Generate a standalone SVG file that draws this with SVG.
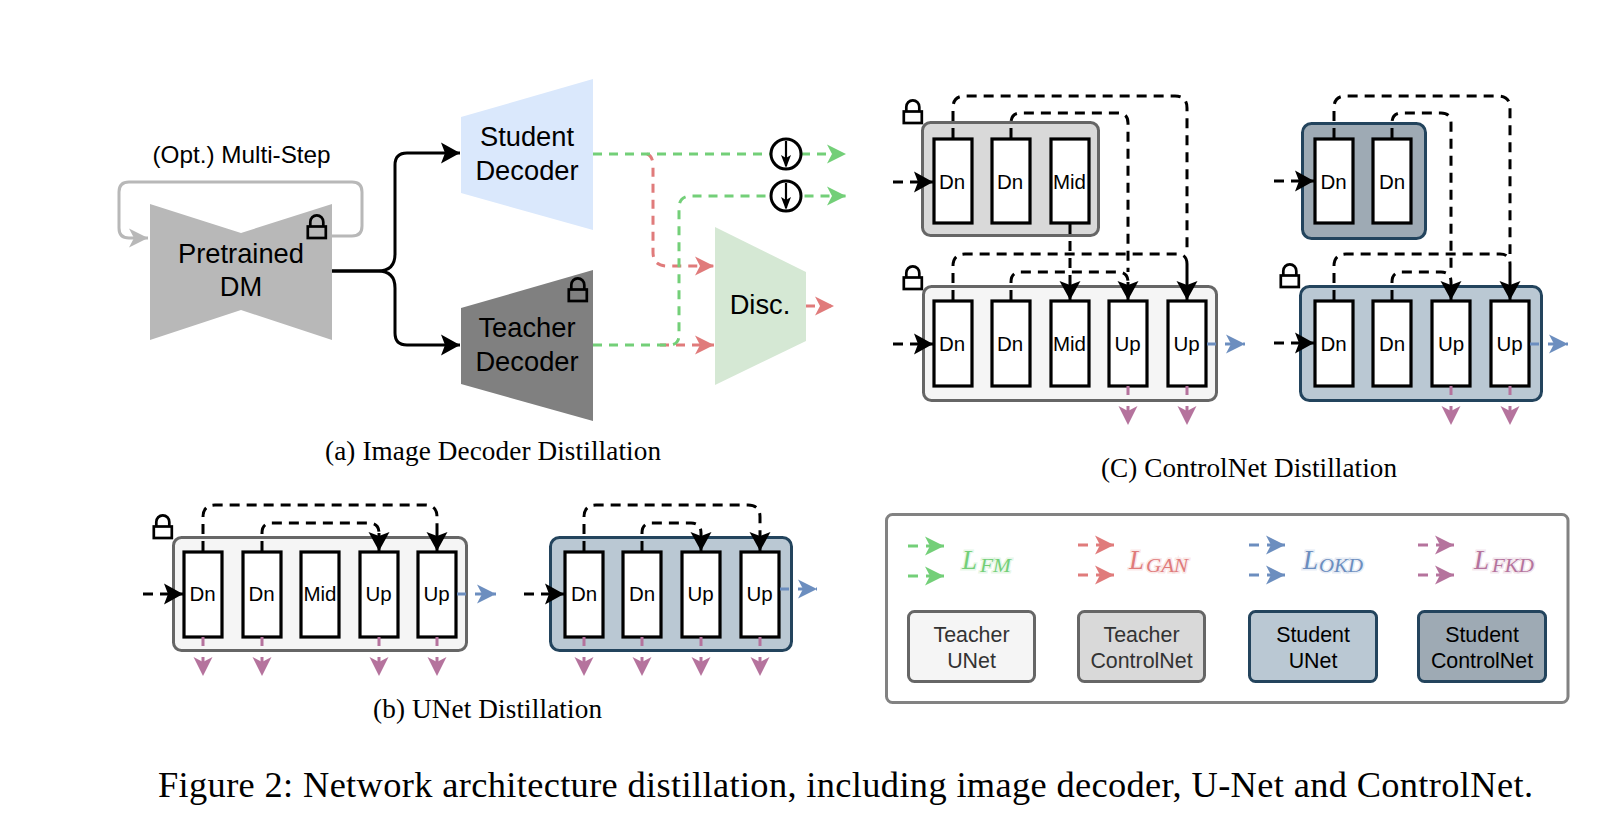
<svg xmlns="http://www.w3.org/2000/svg" width="1612" height="824" viewBox="0 0 1612 824">
<defs>
<style>
text{font-family:"Liberation Sans",Arial,sans-serif;text-anchor:middle;fill:#000}
.big{font-size:27.3px}
.blk{font-size:20.5px}
.leg{font-size:21.4px}
.dim{fill:#333}
.cap{font-family:"Liberation Serif","Times New Roman",serif;font-size:27.2px;text-anchor:start}
.fig{font-family:"Liberation Serif","Times New Roman",serif;font-size:36.4px;text-anchor:start}
.loss{font-family:"Liberation Serif","Times New Roman",serif;font-style:italic;text-anchor:start;font-size:27px;paint-order:stroke;stroke-width:3px;stroke-opacity:.18}
.sub{font-size:19px}
.block{fill:#fff;stroke:#000;stroke-width:3.2}
.tc{fill:#f5f5f5;stroke:#666;stroke-width:3}
.tk{fill:#d9d9d9;stroke:#666;stroke-width:3}
.su{fill:#bac8d3;stroke:#23445d;stroke-width:3}
.sk{fill:#9eaab4;stroke:#23445d;stroke-width:3}
.lock{fill:none;stroke:#000;stroke-width:2.7}
.c{fill:none;stroke-width:3}
.k{stroke:#000;stroke-dasharray:10 7;marker-end:url(#ak)}
.kn{stroke:#000;stroke-dasharray:10 7}
.g{stroke:#73cf78;stroke-dasharray:9 7;marker-end:url(#ag)}
.r{stroke:#e07b7b;stroke-dasharray:9 7;marker-end:url(#ar)}
.b{stroke:#6c8ebf;stroke-dasharray:9 9;marker-end:url(#ab)}
.p{stroke:#b5739d;stroke-dasharray:9 11;marker-end:url(#ap)}
.ks{stroke:#000;marker-end:url(#ak)}
.gy{stroke:#b8b8b8;marker-end:url(#ay)}
.one{stroke-dasharray:10 8 30}
</style>
<marker id="ak" markerUnits="userSpaceOnUse" markerWidth="24" markerHeight="24" refX="19" refY="12" orient="auto"><path d="M0,1.5L19,12L0,22.5L4,12z" fill="#000"/></marker>
<marker id="ag" markerUnits="userSpaceOnUse" markerWidth="24" markerHeight="24" refX="19" refY="12" orient="auto"><path d="M0,2.500L19,12L0,21.500L5,12z" fill="#73cf78"/></marker>
<marker id="ar" markerUnits="userSpaceOnUse" markerWidth="24" markerHeight="24" refX="19" refY="12" orient="auto"><path d="M0,2.500L19,12L0,21.500L5,12z" fill="#e07b7b"/></marker>
<marker id="ab" markerUnits="userSpaceOnUse" markerWidth="24" markerHeight="24" refX="19" refY="12" orient="auto"><path d="M0,2.500L19,12L0,21.500L5,12z" fill="#6c8ebf"/></marker>
<marker id="ap" markerUnits="userSpaceOnUse" markerWidth="24" markerHeight="24" refX="19" refY="12" orient="auto"><path d="M0,2.500L19,12L0,21.500L5,12z" fill="#b5739d"/></marker>
<marker id="ay" markerUnits="userSpaceOnUse" markerWidth="24" markerHeight="24" refX="19" refY="12" orient="auto"><path d="M0,2.500L19,12L0,21.500L5,12z" fill="#b8b8b8"/></marker>
<g id="lk"><rect class="lock" x="1.300" y="12.500" width="18" height="11.500"/><path class="lock" d="M3.800,12.500V8a6.500,6.700 0 0 1 13,0V12.500"/></g>
</defs>
<rect width="1612" height="824" fill="#fff"/>

<g id="pretrained-dm">
<path d="M150,204L241,233L332,204V340L241,310L150,340z" fill="#b8b8b8"/>
<text class="big" x="241" y="263">Pretrained</text>
<text class="big" x="241" y="296">DM</text>
<use href="#lk" x="306.500" y="214"/>
</g>
<g id="student-decoder">
<path d="M461,117L593,79V230L461,193z" fill="#dae8fc"/>
<text class="big" x="527" y="146">Student</text>
<text class="big" x="527" y="180">Decoder</text>
</g>
<g id="teacher-decoder">
<path d="M461,308L593,270V421L461,384z" fill="#808080"/>
<text class="big" x="527" y="337">Teacher</text>
<text class="big" x="527" y="371">Decoder</text>
<use href="#lk" x="567.500" y="277"/>
</g>
<g id="disc">
<path d="M715,227L806,272V341L715,385z" fill="#d5e8d4"/>
<text class="big" x="760" y="314">Disc.</text>
</g>
<text x="241.500" y="163" font-size="24.300" id="multi-step-label">(Opt.) Multi-Step</text>

<g id="controlnet-teacher-controlnet">
<rect class="tk" x="922.500" y="122.500" width="176" height="113" rx="8"/>
<rect class="block" x="934" y="139" width="38" height="84"/><text class="blk" x="952" y="189">Dn</text>
<rect class="block" x="992" y="139" width="38" height="84"/><text class="blk" x="1010" y="189">Dn</text>
<rect class="block" x="1051" y="139" width="38" height="84"/><text class="blk" x="1069.500" y="189">Mid</text>
<use href="#lk" x="902.500" y="99"/>
</g>
<g id="controlnet-teacher-unet">
<rect class="tc" x="923.500" y="286.500" width="293" height="114" rx="8"/>
<rect class="block" x="934" y="301" width="38" height="85"/><text class="blk" x="952" y="351">Dn</text>
<rect class="block" x="992" y="301" width="38" height="85"/><text class="blk" x="1010" y="351">Dn</text>
<rect class="block" x="1051" y="301" width="38" height="85"/><text class="blk" x="1069.500" y="351">Mid</text>
<rect class="block" x="1109" y="301" width="38" height="85"/><text class="blk" x="1127.500" y="351">Up</text>
<rect class="block" x="1168" y="301" width="38" height="85"/><text class="blk" x="1186.500" y="351">Up</text>
<use href="#lk" x="902.500" y="265"/>
</g>
<g id="controlnet-student-controlnet">
<rect class="sk" x="1302.500" y="123.500" width="123" height="115" rx="9"/>
<rect class="block" x="1315" y="139" width="38" height="84"/><text class="blk" x="1333.500" y="189">Dn</text>
<rect class="block" x="1373" y="139" width="38" height="84"/><text class="blk" x="1392" y="189">Dn</text>
</g>
<g id="controlnet-student-unet">
<rect class="su" x="1300.500" y="286.500" width="241" height="114" rx="9"/>
<rect class="block" x="1315" y="301" width="38" height="85"/><text class="blk" x="1333.500" y="351">Dn</text>
<rect class="block" x="1373" y="301" width="38" height="85"/><text class="blk" x="1392" y="351">Dn</text>
<rect class="block" x="1432" y="301" width="38" height="85"/><text class="blk" x="1451" y="351">Up</text>
<rect class="block" x="1491" y="301" width="38" height="85"/><text class="blk" x="1509.500" y="351">Up</text>
<use href="#lk" x="1279.500" y="263"/>
</g>
<g id="unet-teacher">
<rect class="tc" x="173.500" y="537.500" width="293" height="113" rx="8"/>
<rect class="block" x="184" y="552" width="38" height="85"/><text class="blk" x="202.500" y="601">Dn</text>
<rect class="block" x="243" y="552" width="38" height="85"/><text class="blk" x="261.500" y="601">Dn</text>
<rect class="block" x="301" y="552" width="38" height="85"/><text class="blk" x="320" y="601">Mid</text>
<rect class="block" x="360" y="552" width="38" height="85"/><text class="blk" x="378.500" y="601">Up</text>
<rect class="block" x="418" y="552" width="38" height="85"/><text class="blk" x="436.500" y="601">Up</text>
<use href="#lk" x="152.500" y="514"/>
</g>
<g id="unet-student">
<rect class="su" x="550.500" y="537.500" width="241" height="113" rx="9"/>
<rect class="block" x="565" y="552" width="38" height="85"/><text class="blk" x="584" y="601">Dn</text>
<rect class="block" x="623" y="552" width="38" height="85"/><text class="blk" x="642" y="601">Dn</text>
<rect class="block" x="682" y="552" width="38" height="85"/><text class="blk" x="700.500" y="601">Up</text>
<rect class="block" x="741" y="552" width="38" height="85"/><text class="blk" x="759.500" y="601">Up</text>
</g>

<g id="connectors">
<path class="c gy" d="M332,236H352Q362,236 362,226V192Q362,182 352,182H129Q119,182 119,192V228Q119,238 129,238H148"/>
<path class="c ks" d="M332,271H378Q395,271 395,254V165Q395,153 407,153H460"/>
<path class="c ks" d="M332,271H378Q395,271 395,288V333Q395,345 407,345H460"/>
<path class="c r" d="M647,154Q653,156 653,166V252Q653,266 667,266H714"/>
<path class="c r" d="M660,345H714"/>
<path class="c r" d="M806,306H834"/>
<path class="c g" d="M593,154H846"/>
<path class="c g" d="M593,345H669Q679,345 679,335V208Q679,196 691,196H846"/>

<path class="c kn" d="M953,138V108Q953,96 965,96H1175Q1187,96 1187,108V254"/>
<path class="c kn" d="M1011,138V123Q1011,113 1021,113H1118Q1128,113 1128,123V272"/>
<path class="c k" d="M1070,224V300"/>
<path class="c kn" d="M953,300V266Q953,254 965,254H1177Q1187,254 1187,264"/>
<path class="c ks" d="M1187,264V300"/>
<path class="c kn" d="M1011,300V282Q1011,272 1021,272H1118Q1128,272 1128,282"/>
<path class="c ks" d="M1128,282V300"/>
<path class="c k" d="M893,182H933"/>
<path class="c k" d="M893,344H933"/>
<path class="c p" d="M1128,386V425"/>
<path class="c p" d="M1187,386V425"/>
<path class="c b" d="M1207,344H1245"/>

<path class="c kn" d="M1334,138V108Q1334,96 1346,96H1498Q1510,96 1510,108V254"/>
<path class="c kn" d="M1392,138V123Q1392,113 1402,113H1441Q1451,113 1451,123V272"/>
<path class="c kn" d="M1334,300V266Q1334,254 1346,254H1500Q1510,254 1510,264"/>
<path class="c ks" d="M1510,264V300"/>
<path class="c kn" d="M1392,300V282Q1392,272 1402,272H1441Q1451,272 1451,282"/>
<path class="c ks" d="M1451,282V300"/>
<path class="c k" d="M1274,181H1314"/>
<path class="c k" d="M1274,343H1314"/>
<path class="c p" d="M1451,386V425"/>
<path class="c p" d="M1510,386V425"/>
<path class="c b" d="M1530,344H1568"/>

<path class="c kn" d="M203,551V517Q203,505 215,505H425Q437,505 437,517V532"/>
<path class="c ks" d="M437,532V551"/>
<path class="c kn" d="M262,551V533Q262,523 272,523H369Q379,523 379,533"/>
<path class="c ks" d="M379,533V551"/>
<path class="c k" d="M143,594H183"/>
<path class="c b" d="M457,594H496"/>
<path class="c p" d="M203,637V676"/>
<path class="c p" d="M262,637V676"/>
<path class="c p" d="M379,637V676"/>
<path class="c p" d="M437,637V676"/>

<path class="c kn" d="M584,551V517Q584,505 596,505H748Q760,505 760,517V532"/>
<path class="c ks" d="M760,532V551"/>
<path class="c kn" d="M642,551V533Q642,523 652,523H691Q701,523 701,533"/>
<path class="c ks" d="M701,533V551"/>
<path class="c k" d="M524,594H564"/>
<path class="c b" d="M780,589H817"/>
<path class="c p" d="M584,637V676"/>
<path class="c p" d="M642,637V676"/>
<path class="c p" d="M701,637V676"/>
<path class="c p" d="M760,637V676"/>
</g>

<g id="downsample-1">
<circle cx="786" cy="154" r="15" fill="#fff" stroke="#000" stroke-width="3"/>
<path d="M786,141V166" stroke="#000" stroke-width="2.200" fill="none"/><path d="M781,155L786,168L791,155L786,158z" fill="#000"/>
</g>
<g id="downsample-2">
<circle cx="786" cy="196" r="15" fill="#fff" stroke="#000" stroke-width="3"/>
<path d="M786,183V208" stroke="#000" stroke-width="2.200" fill="none"/><path d="M781,197L786,210L791,197L786,200z" fill="#000"/>
</g>

<g id="legend">
<rect x="886.500" y="514.500" width="681.500" height="188" rx="6" fill="#fff" stroke="#828282" stroke-width="3"/>
<path class="c g one" d="M908,546H944"/><path class="c g one" d="M908,576H944"/>
<path class="c r one" d="M1078,545H1114"/><path class="c r one" d="M1078,575H1114"/>
<path class="c b one" d="M1249,545H1285"/><path class="c b one" d="M1249,575H1285"/>
<path class="c p one" d="M1418,545H1454"/><path class="c p one" d="M1418,575H1454"/>
<text class="loss" x="962" y="569" stroke="#73cf78" style="fill:#73cf78">L</text><text class="loss sub" x="980" y="572" textLength="31" lengthAdjust="spacingAndGlyphs" stroke="#73cf78" style="fill:#73cf78">FM</text>
<text class="loss" x="1129" y="569" stroke="#e07b7b" style="fill:#e07b7b">L</text><text class="loss sub" x="1146" y="572" textLength="42" lengthAdjust="spacingAndGlyphs" stroke="#e07b7b" style="fill:#e07b7b">GAN</text>
<text class="loss" x="1303" y="569" stroke="#6c8ebf" style="fill:#6c8ebf">L</text><text class="loss sub" x="1319" y="572" textLength="44" lengthAdjust="spacingAndGlyphs" stroke="#6c8ebf" style="fill:#6c8ebf">OKD</text>
<text class="loss" x="1474" y="569" stroke="#b5739d" style="fill:#b5739d">L</text><text class="loss sub" x="1492" y="572" textLength="42" lengthAdjust="spacingAndGlyphs" stroke="#b5739d" style="fill:#b5739d">FKD</text>
<g id="legend-teacher-unet"><rect class="tc" x="908.500" y="611.500" width="126" height="70" rx="6"/><text class="leg dim" x="971.500" y="642">Teacher</text><text class="leg dim" x="971.500" y="668">UNet</text></g>
<g id="legend-teacher-controlnet"><rect class="tk" x="1078.500" y="611.500" width="126" height="70" rx="6"/><text class="leg dim" x="1141.500" y="642">Teacher</text><text class="leg dim" x="1141.500" y="668">ControlNet</text></g>
<g id="legend-student-unet"><rect class="su" x="1249.500" y="611.500" width="127" height="70" rx="6"/><text class="leg" x="1313" y="642">Student</text><text class="leg" x="1313" y="668">UNet</text></g>
<g id="legend-student-controlnet"><rect class="sk" x="1418.500" y="611.500" width="127" height="70" rx="6"/><text class="leg" x="1482" y="642">Student</text><text class="leg" x="1482" y="668">ControlNet</text></g>
</g>

<text class="cap" x="325" y="460" textLength="336">(a) Image Decoder Distillation</text>
<text class="cap" x="1101" y="477" textLength="296">(C) ControlNet Distillation</text>
<text class="cap" x="373" y="718" textLength="229">(b) UNet Distillation</text>
<text class="fig" x="158" y="797" textLength="1375">Figure 2: Network architecture distillation, including image decoder, U-Net and ControlNet.</text>
</svg>
